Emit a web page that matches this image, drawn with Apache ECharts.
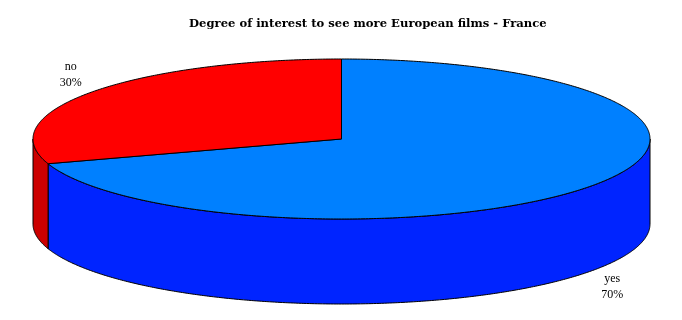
<!DOCTYPE html>
<html><head><meta charset="utf-8">
<script src="https://cdn.jsdelivr.net/npm/echarts@6/dist/echarts.min.js"></script>
<style>html,body{margin:0;padding:0;background:#fff}#c{width:682px;height:320px}</style>
</head><body><div id="c"></div>
<script>
const categories = ['yes', 'no'];
const values = [70, 30];
const topColors = ['#0080FF', '#FF0000'];
const sideColors = ['#0024FF', '#CC0000'];
const titleText = 'Degree of interest to see more European films - France';

const chart = echarts.init(document.getElementById('c'), null, {renderer: 'canvas'});
const CX = 341.5, CY = 139, RX = 308.5, RY = 80, DEPTH = 85, START = -90;
const total = values.reduce((a, b) => a + b, 0);
function pt(deg, dy) { const r = deg * Math.PI / 180; return [CX + RX * Math.cos(r), CY + RY * Math.sin(r) + (dy || 0)]; }
function arc(a0, a1, dy) {
  const pts = []; const n = Math.max(2, Math.ceil(Math.abs(a1 - a0) * 2));
  for (let i = 0; i <= n; i++) pts.push(pt(a0 + (a1 - a0) * i / n, dy));
  return pts;
}
const FONT = '"Liberation Serif", "Times New Roman", serif';

function renderItem(params, api) {
  const idx = params.dataIndex;
  let before = 0; for (let i = 0; i < idx; i++) before += values[i];
  const v = api.value(0);
  const a0 = START + before / total * 360;
  const a1 = START + (before + v) / total * 360;
  const children = [];
  for (let k = -1; k <= 1; k++) {
    const lo = Math.max(a0, k * 360), hi = Math.min(a1, k * 360 + 180);
    if (hi > lo) {
      const pts = arc(lo, hi, 0).concat(arc(lo, hi, DEPTH).reverse());
      children.push({type: 'polygon', shape: {points: pts},
        style: {fill: sideColors[idx], stroke: '#000', lineWidth: 1}});
    }
  }
  const topPts = [[CX, CY]].concat(arc(a0, a1, 0));
  children.push({type: 'polygon', shape: {points: topPts},
    style: {fill: topColors[idx], stroke: '#000', lineWidth: 1}});
  const mid = (a0 + a1) / 2 * Math.PI / 180;
  const s = Math.sin(mid), c = Math.cos(mid);
  const lx = CX + RX * 1.085 * c;
  const ly = CY + RY * 1.36 * s + (s > 0 ? DEPTH - 1 : 0);
  children.push({type: 'text', x: lx, y: ly,
    style: {text: categories[idx] + '\n' + Math.round(v / total * 100) + '%',
      align: 'center', verticalAlign: 'middle', font: '12px ' + FONT, lineHeight: 16, fill: '#000'}});
  return {type: 'group', children};
}

chart.setOption({
  animation: false,
  title: {text: titleText, left: 184, top: 13,
    textStyle: {fontFamily: '"DejaVu Serif", serif', fontWeight: 'bold', fontSize: 11.6, color: '#000'}},
  series: [{type: 'custom', coordinateSystem: 'none', silent: true,
    renderItem, data: values.map(v => [v])}]
});
</script></body></html>
